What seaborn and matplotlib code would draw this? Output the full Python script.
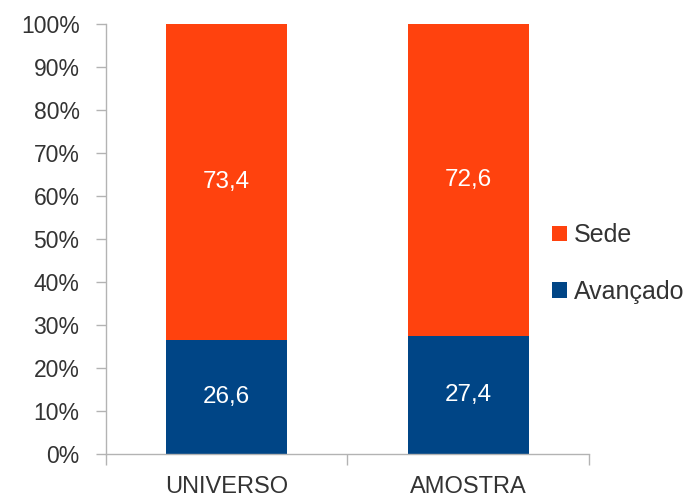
import matplotlib
matplotlib.use('Agg')
import matplotlib.pyplot as plt
import seaborn as sns
from matplotlib.patches import Patch

categorias = ['UNIVERSO', 'AMOSTRA']
avancado = [26.6, 27.4]
sede = [73.4, 72.6]
legenda = ['Sede', 'Avançado']
yticks = [0, 10, 20, 30, 40, 50, 60, 70, 80, 90, 100]

cor_sede = '#ff420e'
cor_avancado = '#004586'
cinza = '#b3b3b3'
texto = '#333333'

sns.set_style('white')
plt.rcParams['font.family'] = ['Liberation Sans', 'DejaVu Sans']

fig, ax = plt.subplots(figsize=(6.89, 5), dpi=100)
fig.subplots_adjust(left=0.1538, right=0.8549, top=0.952, bottom=0.092)

# barra total (sede por cima do avançado)
totais = [a + s for a, s in zip(avancado, sede)]
sns.barplot(x=categorias, y=totais, color=cor_sede, saturation=1, width=0.5, ax=ax, linewidth=0)
sns.barplot(x=categorias, y=avancado, color=cor_avancado, saturation=1, width=0.5, ax=ax, linewidth=0)

# rótulos dentro das barras
for i in range(len(categorias)):
    ax.text(i, avancado[i] / 2, f'{avancado[i]:.1f}'.replace('.', ','), ha='center', va='center',
            color='white', fontsize=17.5)
    ax.text(i, avancado[i] + sede[i] / 2, f'{sede[i]:.1f}'.replace('.', ','), ha='center', va='center',
            color='white', fontsize=17.5)

ax.set_xlim(-0.5, 1.5)
ax.set_ylim(0, 100)
ax.set_yticks(yticks)
ax.set_yticklabels([f'{v}%' for v in yticks])
ax.set_xticks(range(len(categorias)))
ax.set_xticklabels(categorias)
ax.set_xticks([-0.5, 0.5, 1.5], minor=True)

ax.tick_params(axis='y', direction='out', length=7, width=1, color=cinza, labelsize=16.5, labelcolor=texto, pad=12, left=True)
ax.tick_params(axis='x', which='major', length=0, labelsize=17, labelcolor=texto, pad=16)
ax.tick_params(axis='x', which='minor', direction='out', length=8, width=1, color=cinza, bottom=True)

for lado in ['top', 'right']:
    ax.spines[lado].set_visible(False)
for lado in ['left', 'bottom']:
    ax.spines[lado].set_color(cinza)
    ax.spines[lado].set_linewidth(1)
ax.set_xlabel('')
ax.set_ylabel('')

handles = [Patch(facecolor=cor_sede, edgecolor='none'), Patch(facecolor=cor_avancado, edgecolor='none')]
fig.legend(handles, legenda, loc='center left', bbox_to_anchor=(0.768, 0.473), frameon=False,
           fontsize=18, handlelength=0.6, handleheight=0.6, handletextpad=0.3, labelspacing=1.3,
           labelcolor=texto)

fig.savefig('out.png', dpi=100)
